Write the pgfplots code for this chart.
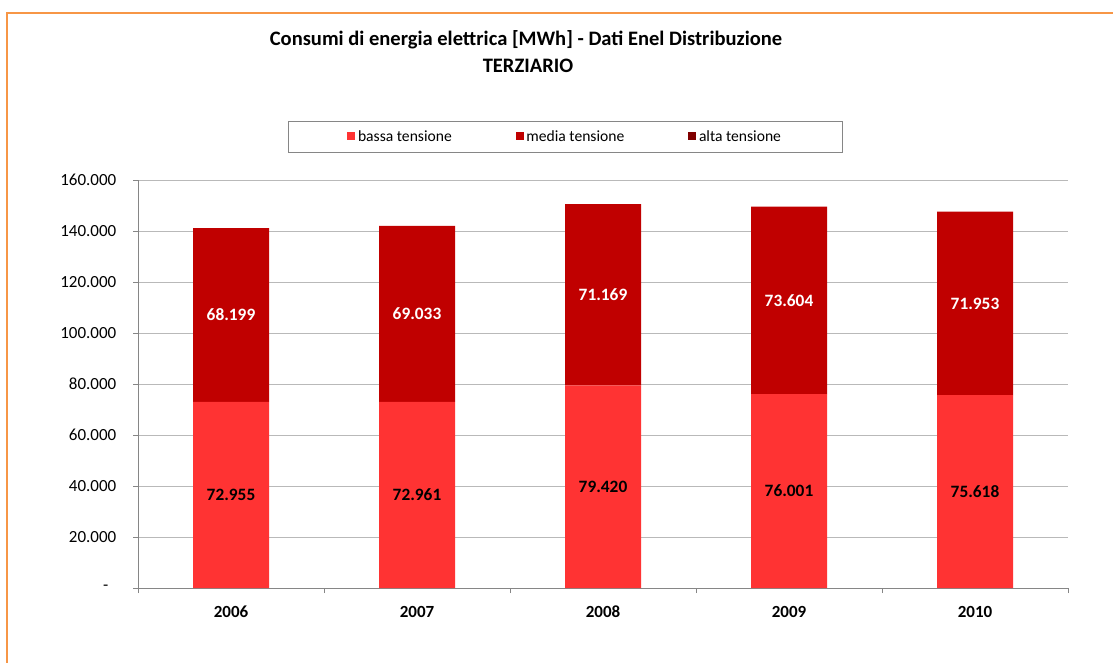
\documentclass[border=0pt]{standalone}
\usepackage{fontspec}
\setmainfont{Carlito}
\usepackage{pgfplots}
\usepackage{pgfplotstable}
\pgfplotsset{compat=1.18}
\definecolor{bassa}{RGB}{255,51,51}
\definecolor{media}{RGB}{192,0,0}
\definecolor{alta}{RGB}{128,0,0}
\definecolor{framec}{RGB}{247,150,70}
\definecolor{gridc}{RGB}{185,185,185}
\definecolor{axisc}{RGB}{134,134,134}
\pgfplotstableread{
x b m a
0 72955 68199 0
1 72961 69033 0
2 79420 71169 0
3 76001 73604 0
4 75618 71953 0
}\data
\begin{document}
\begin{tikzpicture}
\useasboundingbox (0,0) rectangle (834.75pt,496.5pt);
\fill[white] (0,0) rectangle (834.75pt,496.5pt);
\draw[framec,line width=1.5pt] (5.25pt,-10pt) -- (5.25pt,486.75pt) -- (845pt,486.75pt);
\node[font=\bfseries\fontsize{15.4pt}{18pt}\selectfont] at (394.5pt,466.5pt) {Consumi di energia elettrica [MWh] - Dati Enel Distribuzione};
\node[font=\bfseries\fontsize{15.4pt}{18pt}\selectfont] at (396pt,447pt) {TERZIARIO};
\begin{axis}[
  at={(103.5pt,55.5pt)}, anchor=south west,
  scale only axis, width=697.5pt, height=306pt,
  ybar stacked, bar width=57pt,
  xmin=-0.5, xmax=4.5, ymin=0, ymax=160000,
  scaled y ticks=false,
  axis x line*=bottom, axis y line*=left,
  axis line style={axisc, line width=0.75pt},
  xtick={-0.5,0.5,1.5,2.5,3.5,4.5}, xticklabels={},
  extra x ticks={0,1,2,3,4},
  extra x tick labels={2006,2007,2008,2009,2010},
  extra x tick style={major tick length=0pt, grid=none,
     tick label style={font=\bfseries\fontsize{12.75pt}{14pt}\selectfont, anchor=north,
        text height=9pt, text depth=0pt, yshift=-9.5pt}},
  ytick={0,20000,40000,60000,80000,100000,120000,140000,160000},
  yticklabels={-\hspace*{6pt},20.000,40.000,60.000,80.000,100.000,120.000,140.000,160.000},
  tick label style={font=\fontsize{12.75pt}{14pt}\selectfont},
  yticklabel style={xshift=-9pt},
  tick align=outside, major tick length=3.75pt,
  tick style={axisc, line width=0.75pt},
  ymajorgrids, grid style={gridc, line width=0.75pt},
  legend style={at={(0.4597,1.1054)}, anchor=center, draw=axisc, line width=0.75pt,
     inner xsep=44pt, inner ysep=5pt,
     font=\fontsize{11.7pt}{13pt}\selectfont,
     /tikz/every even column/.append style={column sep=46pt}},
  legend columns=3,
  legend image code/.code={\fill[#1] (0pt,-2.5pt) rectangle (6pt,3.5pt);},
  point meta=explicit,
]
\addplot[fill=bassa, draw=none,
  nodes near coords={\pgfmathprintnumber[fixed,precision=0,1000 sep={.},assume math mode=true]{\pgfplotspointmeta}},
  every node near coord/.append style={anchor=center,
     font=\bfseries\fontsize{13pt}{15pt}\selectfont, text=black}]
  table[x=x,y=b,meta=b]{\data};
\addplot[fill=media, draw=none,
  nodes near coords={\pgfmathprintnumber[fixed,precision=0,1000 sep={.},assume math mode=true]{\pgfplotspointmeta}},
  every node near coord/.append style={anchor=center,
     font=\bfseries\fontsize{13pt}{15pt}\selectfont, text=white}]
  table[x=x,y=m,meta=m]{\data};
\addplot[fill=alta, draw=none] table[x=x,y=a,meta=a]{\data};
\legend{bassa tensione, media tensione, alta tensione}
\end{axis}
\end{tikzpicture}
\end{document}
